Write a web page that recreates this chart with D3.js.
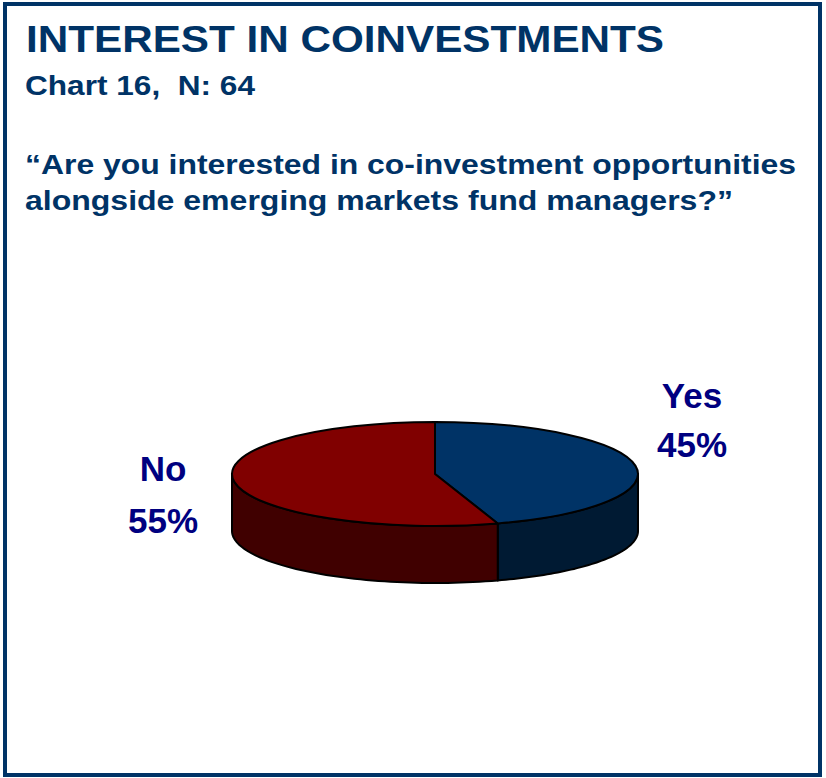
<!DOCTYPE html>
<html>
<head>
<meta charset="utf-8">
<script src="https://cdn.jsdelivr.net/npm/d3@7"></script>
<style>
  html, body { margin: 0; padding: 0; background: #fff; }
  svg { display: block; }
  text { font-family: "Liberation Sans", Arial, sans-serif; font-weight: bold; white-space: pre; }
</style>
</head>
<body>
<script>
// Survey answers and shares
const categories = ["Yes", "No"];
const shares = [45, 55];
const shareLabels = ["45%", "55%"];

const W = 826, H = 778;
const navy = "#003366";
const labelColor = "#000080";
const topColors = { Yes: "#003366", No: "#800000" };
const sideColors = { Yes: "#001a33", No: "#400000" };

const svg = d3.select("body").append("svg")
  .attr("width", W).attr("height", H);

// Frame
svg.append("rect")
  .attr("x", 5).attr("y", 4)
  .attr("width", 815).attr("height", 771)
  .attr("fill", "none").attr("stroke", navy).attr("stroke-width", 4);

// Headings (set in a wide, stretched face)
const heading = (x, y, size, len, str) =>
  svg.append("text").attr("x", x).attr("y", y)
    .attr("fill", navy).attr("font-size", size)
    .attr("textLength", len).attr("lengthAdjust", "spacingAndGlyphs")
    .text(str);

heading(26, 52, 36, 638, "INTEREST IN COINVESTMENTS");
heading(25, 95, 28, 230, "Chart 16,  N: 64");
heading(25, 174, 28, 771, "\u201CAre you interested in co-investment opportunities");
heading(25, 210, 28, 708, "alongside emerging markets fund managers?\u201D");

// 3D pie geometry
const cx = 435, cy = 474, rx = 203, ry = 52, depth = 57;
const pie = d3.pie().sort(null).value(d => d.value);
const arcs = pie(categories.map((c, i) => ({ name: c, value: shares[i] })));

// angle measured clockwise from 12 o'clock, projected onto the ellipse
const pt = (a, dy = 0) => [cx + rx * Math.sin(a), cy - ry * Math.cos(a) + dy];

const g = svg.append("g");

// Side walls: only the front half (angles between PI/2 and 3PI/2) is visible
arcs.forEach(d => {
  const a0 = Math.max(d.startAngle, Math.PI / 2);
  const a1 = Math.min(d.endAngle, 3 * Math.PI / 2);
  if (a1 <= a0) return;
  const n = 60;
  const topPts = d3.range(n + 1).map(i => pt(a0 + (a1 - a0) * i / n));
  const botPts = topPts.slice().reverse().map(p => [p[0], p[1] + depth]);
  g.append("path")
    .attr("d", d3.line()(topPts.concat(botPts)) + "Z")
    .attr("fill", sideColors[d.data.name])
    .attr("stroke", "#000").attr("stroke-width", 2)
    .attr("stroke-linejoin", "round");
});

// Top faces
arcs.forEach(d => {
  const p0 = pt(d.startAngle), p1 = pt(d.endAngle);
  const large = (d.endAngle - d.startAngle) > Math.PI ? 1 : 0;
  const path = `M${cx},${cy}L${p0[0]},${p0[1]}A${rx},${ry} 0 ${large} 1 ${p1[0]},${p1[1]}Z`;
  g.append("path")
    .attr("d", path)
    .attr("fill", topColors[d.data.name])
    .attr("stroke", "#000").attr("stroke-width", 2)
    .attr("stroke-linejoin", "round");
});

// Category labels
const labelPos = { Yes: [692, 408, 457], No: [163, 481, 533] };
arcs.forEach((d, i) => {
  const [x, y1, y2] = labelPos[d.data.name];
  svg.append("text").attr("x", x).attr("y", y1)
    .attr("text-anchor", "middle").attr("fill", labelColor).attr("font-size", 35)
    .text(d.data.name);
  svg.append("text").attr("x", x).attr("y", y2)
    .attr("text-anchor", "middle").attr("fill", labelColor).attr("font-size", 35)
    .text(shareLabels[i]);
});
</script>
</body>
</html>
